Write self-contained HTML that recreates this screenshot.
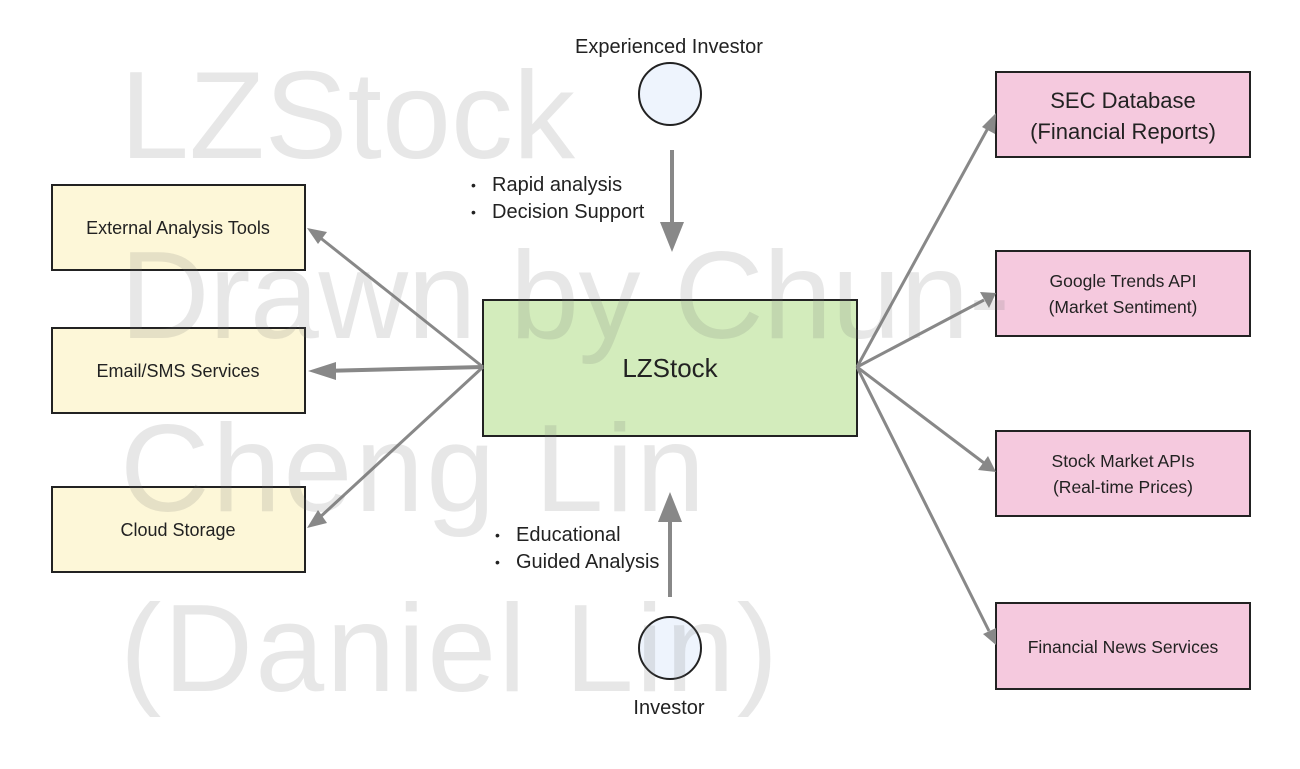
<!DOCTYPE html>
<html><head><meta charset="utf-8"><style>
html,body{margin:0;padding:0;background:#fff;}
svg{display:block;}
text{font-family:"Liberation Sans",sans-serif;fill:#222;}
</style></head><body>
<svg width="1300" height="769" viewBox="0 0 1300 769" xmlns="http://www.w3.org/2000/svg">
<g stroke="#222" stroke-width="2">
<rect x="52" y="185" width="253" height="85" fill="#fdf7d8"/>
<rect x="52" y="328" width="253" height="85" fill="#fdf7d8"/>
<rect x="52" y="487" width="253" height="85" fill="#fdf7d8"/>
<rect x="483" y="300" width="374" height="136" fill="#d3ecbc"/>
<rect x="996" y="72" width="254" height="85" fill="#f5c9de"/>
<rect x="996" y="251" width="254" height="85" fill="#f5c9de"/>
<rect x="996" y="431" width="254" height="85" fill="#f5c9de"/>
<rect x="996" y="603" width="254" height="86" fill="#f5c9de"/>
<circle cx="670" cy="94" r="31" fill="#eef4fd"/>
<circle cx="670" cy="648" r="31" fill="#eef4fd"/>
</g>
<g stroke="#888" stroke-width="3" fill="none">
<line x1="483" y1="367" x2="318" y2="236"/>
<line x1="483" y1="367" x2="322" y2="371" stroke-width="4"/>
<line x1="483" y1="367" x2="318" y2="519"/>
<line x1="857" y1="367" x2="988" y2="128"/>
<line x1="857" y1="367" x2="984" y2="300"/>
<line x1="857" y1="367" x2="984" y2="463"/>
<line x1="857" y1="367" x2="989" y2="631"/>
<line x1="672" y1="150" x2="672" y2="230" stroke-width="4"/>
<line x1="670" y1="597" x2="670" y2="515" stroke-width="4"/>
</g>
<g fill="#888">
<polygon points="307,228 327,232 318,244"/>
<polygon points="308,371 336,362 336,380"/>
<polygon points="307,528 318,510 327,523"/>
<polygon points="996,113 995,134 982,127"/>
<polygon points="996,293 989,308 980,292"/>
<polygon points="996,472 978,470 988,456"/>
<polygon points="996,645 983,634 996,628"/>
<polygon points="660,222 684,222 672,252"/>
<polygon points="658,522 682,522 670,492"/>
</g>
<text x="178" y="234" font-size="18" text-anchor="middle">External Analysis Tools</text>
<text x="178" y="377" font-size="18" text-anchor="middle">Email/SMS Services</text>
<text x="178" y="536" font-size="18" text-anchor="middle">Cloud Storage</text>
<text x="670" y="377" font-size="26" text-anchor="middle">LZStock</text>
<text x="1123" y="108" font-size="22" text-anchor="middle">SEC Database</text>
<text x="1123" y="139" font-size="22" text-anchor="middle">(Financial Reports)</text>
<text x="1123" y="287" font-size="17.5" text-anchor="middle">Google Trends API</text>
<text x="1123" y="313" font-size="17.5" text-anchor="middle">(Market Sentiment)</text>
<text x="1123" y="467" font-size="17.5" text-anchor="middle">Stock Market APIs</text>
<text x="1123" y="493" font-size="17.5" text-anchor="middle">(Real-time Prices)</text>
<text x="1123" y="653" font-size="17.5" text-anchor="middle">Financial News Services</text>
<text x="669" y="53" font-size="20" text-anchor="middle">Experienced Investor</text>
<text x="669" y="714" font-size="20" text-anchor="middle">Investor</text>
<text x="471" y="190" font-size="14">•</text>
<text x="492" y="191" font-size="20">Rapid analysis</text>
<text x="471" y="217" font-size="14">•</text>
<text x="492" y="218" font-size="20">Decision Support</text>
<text x="495" y="540" font-size="14">•</text>
<text x="516" y="541" font-size="20">Educational</text>
<text x="495" y="567" font-size="14">•</text>
<text x="516" y="568" font-size="20">Guided Analysis</text>
<g font-size="124">
<text x="120" y="158" textLength="455" style="fill:rgba(110,110,110,0.17)">LZStock</text>
<text x="120" y="338" textLength="890" style="fill:rgba(110,110,110,0.17)">Drawn by Chun-</text>
<text x="120" y="511" textLength="585" style="fill:rgba(110,110,110,0.17)">Cheng Lin</text>
<text x="120" y="691" textLength="658" style="fill:rgba(110,110,110,0.17)">(Daniel Lin)</text>
</g>
</svg>
</body></html>
